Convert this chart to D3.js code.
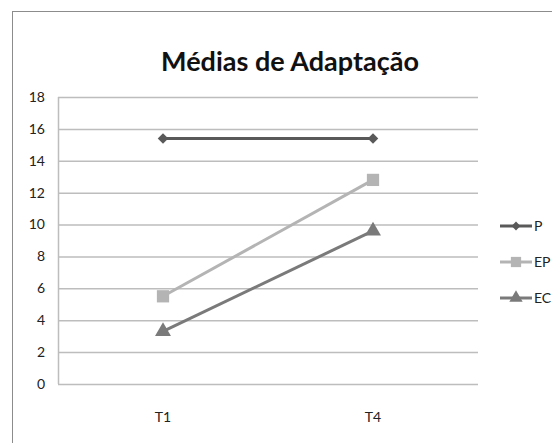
<!DOCTYPE html>
<html>
<head>
<meta charset="utf-8">
<script src="https://cdn.jsdelivr.net/npm/d3@7"></script>
<style>
  body { margin: 0; background: #fff; }
  svg { display: block; }
  text { font-family: Lato, "Open Sans", sans-serif; fill: #222; }
</style>
</head>
<body>
<div id="chart"></div>
<script>
// data
const categories = ["T1", "T4"];
const seriesNames = ["P", "EP", "EC"];
const P = [15.4, 15.4];
const EP = [5.5, 12.8];
const EC = [3.3, 9.6];
const yTicks = [0, 2, 4, 6, 8, 10, 12, 14, 16, 18];

const width = 552, height = 443;
const margin = {top: 97, right: 74, bottom: 59, left: 58};

const svg = d3.select("#chart").append("svg")
  .attr("width", width)
  .attr("height", height);

// outer chart frame (runs off the right and bottom of the picture)
svg.append("rect")
  .attr("x", 12.5).attr("y", 11.5)
  .attr("width", 600).attr("height", 500)
  .attr("fill", "none")
  .attr("stroke", "#8c8c8c")
  .attr("stroke-width", 1);

// title
svg.append("text")
  .attr("x", 290).attr("y", 71)
  .attr("text-anchor", "middle")
  .attr("font-size", 27)
  .attr("font-weight", "bold")
  .style("fill", "#111")
  .text("Médias de Adaptação");

const x = d3.scaleBand()
  .domain(categories)
  .range([margin.left, width - margin.right]);

const y = d3.scaleLinear()
  .domain([0, 18])
  .range([height - margin.bottom, margin.top]);

// gridlines
svg.append("g")
  .selectAll("line")
  .data(yTicks)
  .join("line")
  .attr("x1", margin.left)
  .attr("x2", width - margin.right)
  .attr("y1", d => y(d) + 0.5)
  .attr("y2", d => y(d) + 0.5)
  .attr("stroke", "#bdbdbd")
  .attr("stroke-width", 1.5);

// left axis line of the plot area
svg.append("line")
  .attr("x1", margin.left + 0.5).attr("x2", margin.left + 0.5)
  .attr("y1", y(18)).attr("y2", y(0))
  .attr("stroke", "#bdbdbd")
  .attr("stroke-width", 1.5);

// y tick labels
svg.append("g")
  .selectAll("text")
  .data(yTicks)
  .join("text")
  .attr("x", 45)
  .attr("y", d => y(d))
  .attr("dy", "0.35em")
  .attr("text-anchor", "end")
  .attr("font-size", 14)
  .text(d => d);

// x labels
svg.append("g")
  .selectAll("text")
  .data(categories)
  .join("text")
  .attr("x", d => x(d) + x.bandwidth() / 2)
  .attr("y", 422)
  .attr("text-anchor", "middle")
  .attr("font-size", 14)
  .text(d => d);

const series = [
  {name: seriesNames[0], values: P, color: "#595959", symbol: d3.symbolSquare, size: 55, rot: 45},
  {name: seriesNames[1], values: EP, color: "#b4b4b4", symbol: d3.symbolSquare, size: 150, rot: 0},
  {name: seriesNames[2], values: EC, color: "#7a7a7a", symbol: d3.symbolTriangle, size: 110, rot: 0}
];

const line = d3.line()
  .x((d, i) => x(categories[i]) + x.bandwidth() / 2)
  .y(d => y(d));

series.forEach(s => {
  const g = svg.append("g");
  g.append("path")
    .datum(s.values)
    .attr("d", line)
    .attr("fill", "none")
    .attr("stroke", s.color)
    .attr("stroke-width", 3);
  g.selectAll("path.m")
    .data(s.values)
    .join("path")
    .attr("class", "m")
    .attr("d", d3.symbol().type(s.symbol).size(s.size))
    .attr("transform", (d, i) => `translate(${x(categories[i]) + x.bandwidth() / 2},${y(d)}) rotate(${s.rot})`)
    .attr("fill", s.color);
});

// legend
const legend = svg.append("g")
  .selectAll("g")
  .data(series)
  .join("g")
  .attr("transform", (d, i) => `translate(500,${226 + i * 36})`);

legend.append("line")
  .attr("x1", 0).attr("x2", 32)
  .attr("stroke", d => d.color)
  .attr("stroke-width", 3);

legend.append("path")
  .attr("d", d => d3.symbol().type(d.symbol).size(d.size * 0.7)())
  .attr("transform", d => `translate(16,0) rotate(${d.rot})`)
  .attr("fill", d => d.color);

legend.append("text")
  .attr("x", 34)
  .attr("dy", "0.35em")
  .attr("font-size", 14)
  .text(d => d.name);
</script>
</body>
</html>
